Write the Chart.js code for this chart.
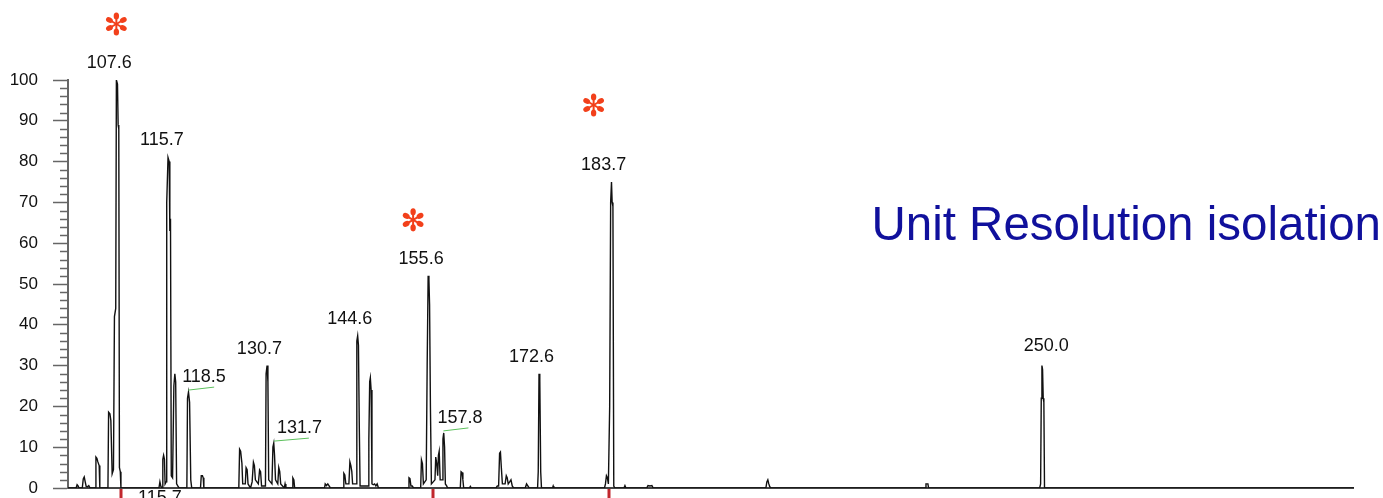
<!DOCTYPE html>
<html>
<head>
<meta charset="utf-8">
<title>Unit Resolution isolation</title>
<script src="https://cdn.jsdelivr.net/npm/chart.js@4/dist/chart.umd.min.js"></script>
<style>
  html, body { margin: 0; padding: 0; background: #fff; }
  #wrap { width: 1383px; height: 498px; position: relative; }
</style>
</head>
<body>
<div id="wrap"><canvas id="spectrum"></canvas></div>
<script>
// Profile trace (m/z, relative intensity %)
const traceMz = [
    100, 101.25, 101.4, 101.55, 101.7, 102.2, 102.35, 102.5, 102.65, 102.8, 103.0, 103.2, 103.4,
    104.2, 104.3, 104.45, 104.6, 104.8, 104.9,
    106.15, 106.25, 106.45, 106.6, 106.8, 107.0, 107.15, 107.35, 107.45, 107.62, 107.72, 107.82, 107.92, 108.05, 108.15,
    114.0, 114.15, 114.3, 114.5, 114.6, 114.72, 114.85, 114.95,
    115.1, 115.2, 115.4, 115.58, 115.68, 115.78, 115.9, 116.1, 116.3, 116.45, 116.58, 116.72, 116.9, 117.1,
    118.3, 118.4, 118.55, 118.72, 118.9, 119.05,
    120.4, 120.52, 120.7, 120.82, 120.92,
    126.3, 126.42, 126.58, 126.78, 126.9, 127.3, 127.42, 127.58, 127.72,
    128.1, 128.35, 128.55, 128.7, 128.85, 129.3, 129.5, 129.65, 129.8,
    130.4, 130.5, 130.65, 130.78, 130.9, 131.4, 131.55, 131.68, 131.8, 131.95,
    132.3, 132.45, 132.6, 132.75, 133.3, 133.42, 133.55, 134.5, 134.62, 134.78, 134.9,
    139.5, 139.6, 139.8, 140.0, 140.2, 140.4,
    142.35, 142.47, 142.62, 142.78, 143.25, 143.4, 143.55, 143.7, 143.82,
    144.35, 144.47, 144.6, 144.72, 144.85, 144.97,
    146.25, 146.32, 146.45, 146.55, 146.67, 146.8, 147.0, 147.2, 147.4, 147.6, 147.8,
    152.4, 152.5, 152.65, 152.8, 153.0, 153.2,
    154.3, 154.42, 154.57, 154.72, 155.15, 155.3, 155.45, 155.57, 155.67, 155.8, 155.95,
    156.5, 156.62, 156.77, 156.92, 157.03, 157.15, 157.3,
    157.62, 157.73, 157.85, 157.98, 158.1, 158.3, 158.45,
    160.4, 160.52, 160.67, 160.8, 160.92, 161.8, 161.95, 162.1,
    165.9, 166.1, 166.3, 166.45, 166.58, 166.72, 166.88, 167.3, 167.48, 167.62, 167.78, 168.0, 168.2, 168.4, 168.6,
    170.4, 170.6, 170.8, 171.0,
    172.3, 172.4, 172.52, 172.64, 172.78, 172.9, 174.6, 174.7, 174.8,
    182.6, 182.75, 182.9, 183.05, 183.2, 183.4, 183.55, 183.68, 183.78, 183.9, 184.03, 184.2,
    185.6, 185.75, 185.9, 189.1, 189.3, 189.6, 189.9, 190.1,
    207.45, 207.6, 207.75, 207.9, 208.05, 208.25,
    232.0, 232.1, 232.4, 232.5,
    249.6, 249.75, 249.85, 249.95, 250.05, 250.15, 250.25, 250.35,
    298
];
const traceInt = [
    0, 0, 0.8, 0.5, 0, 0, 2.2, 2.7, 1.5, 0.4, 0.3, 0.6, 0,
    0, 7.6, 7.3, 6.4, 5.5, 0,
    0, 18.6, 18.2, 16.5, 3.5, 4.5, 42, 44, 100, 99, 89, 88, 5, 4, 0,
    0, 1.5, 0.4, 0, 7, 8, 7, 1,
    1.5, 70, 81, 80, 63, 66, 3, 2.5, 25, 28, 26, 1, 0.5, 0,
    0, 22, 23.5, 21, 2, 0,
    0, 3, 3, 2.5, 0,
    0, 9.5, 9, 6, 1, 1, 5, 4.5, 1,
    0, 1.5, 6.3, 5.5, 2, 1, 4.4, 4, 0.5,
    0.5, 28, 30, 26, 2, 1, 10, 11, 8, 2,
    1, 5, 4, 1, 0, 1, 0, 0, 2.5, 2, 0,
    0, 1, 0.6, 1, 0.5, 0,
    0, 3.6, 3.2, 1, 1, 6.4, 5.5, 4, 1,
    1, 36, 37.3, 35, 15, 0.5,
    0.5, 12, 26, 27, 24, 1, 0.8, 1, 0.5, 1, 0,
    0, 2.5, 2.3, 0.5, 0.5, 0,
    0, 6.9, 6, 1, 2, 30, 52, 51, 45, 20, 1,
    2, 7.6, 6, 3, 8, 9, 2,
    2, 12, 13.5, 10, 1, 0.5, 0,
    0, 4, 3.8, 2, 0, 0, 0.4, 0,
    0, 0.5, 0.5, 8.5, 8.8, 5, 1, 1, 3, 2.5, 1, 1.5, 2, 0.5, 0,
    0, 1, 0.5, 0,
    0, 4, 28, 26.5, 4, 0, 0, 0.5, 0,
    0, 1, 3, 2.5, 1, 20, 70, 75, 70, 69, 0.5, 0,
    0, 0.6, 0, 0, 0.6, 0.5, 0.6, 0,
    0, 1.5, 2, 1, 0.3, 0,
    0, 1, 1, 0,
    0, 1, 22, 30, 29, 22, 21, 0,
    0
];

// Peak annotations
const peakLabels = ['107.6', '115.7', '130.7', '144.6', '155.6', '172.6', '183.7', '250.0'];
const peakLabelMz = [107.6, 115.7, 130.7, 144.6, 155.6, 172.6, 183.7, 250.0];
const peakLabelInt = [100, 81, 30, 37.3, 52, 28, 75, 30];

// Labels with a green leader line
const leaderLabels = ['118.5', '131.7', '157.8'];
const leaderMz = [118.5, 131.7, 157.8];
const leaderInt = [23.5, 11, 13.5];

// Peaks marked with a red asterisk
const starMz = [107.6, 155.6, 183.7];
const starInt = [100, 52, 75];

// Isolation markers under the axis
const isolationMz = [108.2, 156.2, 183.3];
const isolationText = '115.7';

const yTicks = [0, 10, 20, 30, 40, 50, 60, 70, 80, 90, 100];
const titleText = 'Unit Resolution isolation';

// ---- styling / placement (not data) ----
const FONT = '"Liberation Sans", Arial, sans-serif';
const labelNudge = { '250.0': [4, -20] };       // default [-8, -17]
const leaderStyle = { '118.5': [-6, 26], '131.7': [3, 35], '157.8': [-6, 25] }; // [text dx, line length]
const starNudge = [[-1, -56], [-16, -56], [-18, -77]];

function drawStar(ctx, cx, cy) {
    ctx.save();
    ctx.fillStyle = '#f2401b';
    ctx.strokeStyle = '#f2401b';
    ctx.lineWidth = 2;
    ctx.lineCap = 'round';
    for (let k = 0; k < 6; k++) {
        const a = Math.PI / 2 + k * Math.PI / 3;
        ctx.beginPath();
        ctx.moveTo(cx, cy);
        ctx.lineTo(cx + Math.cos(a) * 7, cy - Math.sin(a) * 7);
        ctx.stroke();
        ctx.beginPath();
        ctx.ellipse(cx + Math.cos(a) * 8, cy - Math.sin(a) * 8, 3.6, 2.7, -a, 0, Math.PI * 2);
        ctx.fill();
    }
    ctx.restore();
}

const annotations = {
    id: 'annotations',
    beforeDatasetsDraw(chart) {
        const { ctx, chartArea, scales } = chart;
        const y = scales.y;
        ctx.save();
        // minor y ticks every 2 units
        ctx.strokeStyle = '#666';
        ctx.lineWidth = 1.5;
        for (let v = 2; v < 100; v += 2) {
            if (v % 10 === 0) continue;
            const py = Math.round(y.getPixelForValue(v)) + 0.5;
            ctx.beginPath();
            ctx.moveTo(chartArea.left - 8, py);
            ctx.lineTo(chartArea.left, py);
            ctx.stroke();
        }
        // x baseline
        ctx.strokeStyle = '#444';
        ctx.lineWidth = 2;
        ctx.beginPath();
        ctx.moveTo(chartArea.left, chartArea.bottom);
        ctx.lineTo(chartArea.right, chartArea.bottom);
        ctx.stroke();
        ctx.restore();
    },
    afterDatasetsDraw(chart) {
        const { ctx, chartArea, scales } = chart;
        const x = scales.x, y = scales.y;
        ctx.save();
        ctx.font = '18px ' + FONT;
        ctx.fillStyle = '#111';
        ctx.textAlign = 'center';
        ctx.textBaseline = 'middle';
        peakLabels.forEach((t, i) => {
            const n = labelNudge[t] || [-8, -17];
            ctx.fillText(t, x.getPixelForValue(peakLabelMz[i]) + n[0], y.getPixelForValue(peakLabelInt[i]) + n[1]);
        });

        leaderLabels.forEach((t, i) => {
            const px = x.getPixelForValue(leaderMz[i]);
            const py = y.getPixelForValue(leaderInt[i]);
            const s = leaderStyle[t];
            ctx.strokeStyle = '#5cc05c';
            ctx.lineWidth = 1;
            ctx.beginPath();
            ctx.moveTo(px, py - 2);
            ctx.lineTo(px + s[1], py - 5);
            ctx.stroke();
            ctx.textAlign = 'left';
            ctx.fillText(t, px + s[0], py - 15);
        });

        starMz.forEach((m, i) => {
            drawStar(ctx, x.getPixelForValue(m) + starNudge[i][0], y.getPixelForValue(starInt[i]) + starNudge[i][1]);
        });

        // isolation ticks below the axis
        ctx.strokeStyle = '#c1272d';
        ctx.lineWidth = 3;
        isolationMz.forEach(m => {
            const px = Math.round(x.getPixelForValue(m));
            ctx.beginPath();
            ctx.moveTo(px, chartArea.bottom + 1);
            ctx.lineTo(px, chart.height);
            ctx.stroke();
        });
        ctx.textAlign = 'left';
        ctx.textBaseline = 'alphabetic';
        ctx.fillStyle = '#111';
        ctx.fillText(isolationText, Math.round(x.getPixelForValue(isolationMz[0])) + 17, chartArea.bottom + 15);

        // title
        ctx.font = '47.5px ' + FONT;
        ctx.fillStyle = '#10109c';
        ctx.textAlign = 'right';
        ctx.fillText(titleText, chart.width - 2, 240);
        ctx.restore();
    }
};

Chart.defaults.font.family = FONT;

const chart = new Chart(document.getElementById('spectrum'), {
    type: 'line',
    data: {
        datasets: [{
            data: traceMz.map((m, i) => ({ x: m, y: traceInt[i] })),
            borderColor: '#111',
            borderWidth: 1.4,
            pointRadius: 0,
            tension: 0,
            fill: false
        }]
    },
    options: {
        responsive: true,
        maintainAspectRatio: false,
        animation: false,
        events: [],
        layout: { padding: { top: 80, right: 29, bottom: 10, left: 0 } },
        plugins: { legend: { display: false }, tooltip: { enabled: false } },
        scales: {
            x: {
                type: 'linear',
                min: 100,
                max: 298,
                display: false
            },
            y: {
                type: 'linear',
                min: 0,
                max: 100,
                afterFit(scale) {
                    scale.width = 68;
                    scale.paddingTop = 0;
                    scale.paddingBottom = 0;
                },
                afterBuildTicks(scale) { scale.ticks = yTicks.map(v => ({ value: v })); },
                ticks: { color: '#111', font: { size: 17 }, padding: 15, autoSkip: false },
                grid: { drawOnChartArea: false, tickLength: 15, tickColor: '#666', tickWidth: 1.5 },
                border: { color: '#666', width: 2 }
            }
        }
    },
    plugins: [annotations]
});
</script>
</body>
</html>
